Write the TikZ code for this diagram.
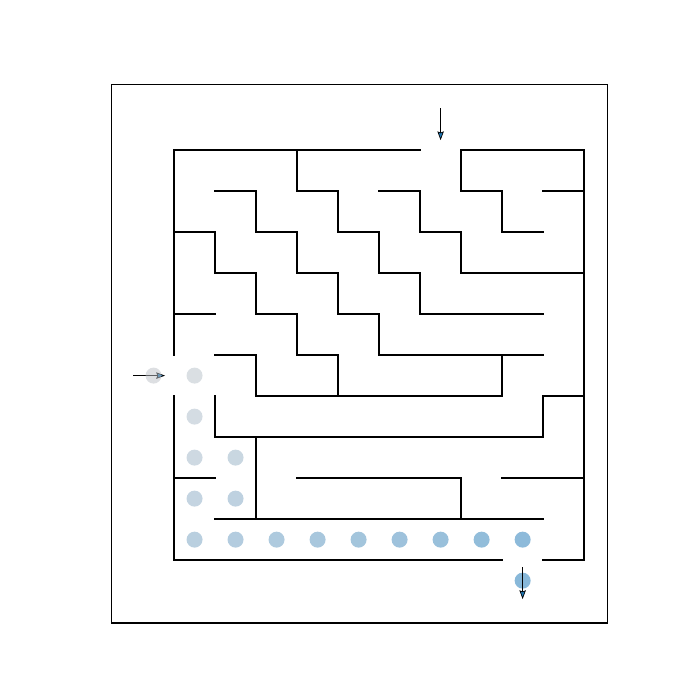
\documentclass[tikz,border=0pt]{standalone}
\usetikzlibrary{arrows.meta}
\definecolor{dotStart}{RGB}{223,225,228}
\definecolor{dotEnd}{RGB}{136,184,217}
\definecolor{dotOne}{RGB}{188,192,198}
\definecolor{headblue}{RGB}{31,119,180}
\tikzset{
  wall/.style={line width=1.45pt, line cap=rect, line join=miter},
  frame/.style={line width=0.75pt},
  dot/.style={circle, inner sep=0pt, minimum size=0.4cm, draw=none},
  flow/.style={line width=1pt, -{Stealth[length=2.2mm, width=1.6mm, inset=0.3mm, fill=headblue, line width=0.5pt]}},
}
\begin{document}
\begin{tikzpicture}[x=0.025cm, y=-0.025cm]
\useasboundingbox (0,0) rectangle (700,700);
\draw[frame] (111.5,84.5) rectangle (607.5,623);
\begin{scope}[xshift=4.35cm, yshift=-3.75cm, x=1.025cm, y=-1.025cm]
  % outer walls
  \draw[wall] (0,0) -- (6,0);
  \draw[wall] (7,0) -- (10,0) -- (10,10) -- (9,10);
  \draw[wall] (0,5) -- (0,0);
  \draw[wall] (0,6) -- (0,10) -- (8,10);
  % inner walls
  \draw[wall] (3,0) -- (3,1) -- (4,1) -- (4,2) -- (5,2) -- (5,3) -- (6,3) -- (6,4) -- (9,4);
  \draw[wall] (1,1) -- (2,1) -- (2,2) -- (3,2) -- (3,3) -- (4,3) -- (4,4) -- (5,4) -- (5,5) -- (9,5);
  \draw[wall] (0,2) -- (1,2) -- (1,3) -- (2,3) -- (2,4) -- (3,4) -- (3,5) -- (4,5) -- (4,6);
  \draw[wall] (5,1) -- (6,1) -- (6,2) -- (7,2) -- (7,3) -- (10,3);
  \draw[wall] (7,0) -- (7,1) -- (8,1) -- (8,2) -- (9,2);
  \draw[wall] (9,1) -- (10,1);
  \draw[wall] (0,4) -- (1,4);
  \draw[wall] (1,5) -- (2,5) -- (2,6) -- (8,6) -- (8,5);
  \draw[wall] (1,6) -- (1,7) -- (9,7) -- (9,6) -- (10,6);
  \draw[wall] (2,7) -- (2,9);
  \draw[wall] (1,9) -- (9,9);
  \draw[wall] (0,8) -- (1,8);
  \draw[wall] (3,8) -- (7,8) -- (7,9);
  \draw[wall] (8,8) -- (10,8);
  % arrow in (under the first, translucent dot)
  \coordinate (inS) at (-1,5.5);
  \coordinate (inE) at (-0.22,5.5);
  \draw[flow] (inS) -- (inE);
  \node[dot, fill=dotOne, fill opacity=0.5] (d1) at (-0.5,5.5) {};
  % path dots
  \foreach \n/\px/\py [count=\k from 1] in {2/0.5/5.5, 3/0.5/6.5, 4/0.5/7.5, 5/1.5/7.5, 6/0.5/8.5, 7/1.5/8.5, 8/0.5/9.5, 9/1.5/9.5, 10/2.5/9.5, 11/3.5/9.5, 12/4.5/9.5, 13/5.5/9.5, 14/6.5/9.5, 15/7.5/9.5, 16/8.5/9.5, 17/8.5/10.5} {
    \pgfmathtruncatemacro{\pct}{round(100*\k/16)}
    \node[dot, fill=dotEnd!\pct!dotStart] (d\n) at (\px,\py) {};
  }
  % top and bottom arrows
  \coordinate (topS) at (6.5,-1.02);
  \coordinate (topE) at (6.5,-0.24);
  \draw[flow] (topS) -- (topE);
  \coordinate (botS) at (8.5,10.17);
  \coordinate (botE) at (8.5,10.95);
  \draw[flow] (botS) -- (botE);
\end{scope}
\end{tikzpicture}
\end{document}
